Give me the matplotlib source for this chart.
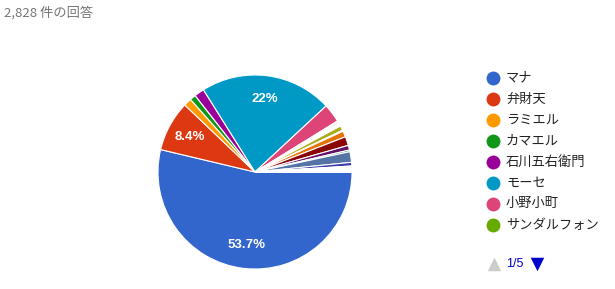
import matplotlib
matplotlib.use("Agg")
import matplotlib.pyplot as plt

plt.rcParams["font.family"] = ["Noto Sans CJK JP", "DejaVu Sans"]

# 回答数（合計 2,828 件、40 項目）
total = 2828
names = ["マナ", "弁財天", "ラミエル", "カマエル", "石川五右衛門", "モーセ", "小野小町", "サンダルフォン"]
counts = [1519, 238, 37, 28, 47, 622, 88, 6,
          6, 5, 5, 5, 22, 5, 28, 42, 22, 8, 50, 17,
          3, 2, 2, 2, 2, 2, 2, 1, 1, 1, 1, 1, 1, 1, 1, 1, 1, 1, 1, 1]
colors = ["#3366cc", "#dc3912", "#ff9900", "#109618", "#990099", "#0099c6", "#dd4477", "#66aa00",
          "#b82e2e", "#316395", "#994499", "#22aa99", "#aaaa11", "#6633cc", "#e67300", "#8b0707",
          "#651067", "#329262", "#5574a6", "#3b3eac", "#b77322", "#16d620", "#b91383", "#f4359e",
          "#9c5935", "#a9c413", "#2a778d", "#668d1c", "#bea413", "#0c5922", "#743411", "#3366cc",
          "#dc3912", "#ff9900", "#109618", "#990099", "#0099c6", "#dd4477", "#66aa00", "#b82e2e"]
page = "1/5"

W, H = 615, 289
fig = plt.figure(figsize=(W / 100, H / 100), dpi=100)

# 円グラフ
cx, cy, r = 255, 172, 98
ax = fig.add_axes([(cx - r) / W, (H - cy - r) / H, 2 * r / W, 2 * r / H])


def pct(p):
    if p < 5:
        return ""
    s = "{:.1f}".format(p)
    if s.endswith(".0"):
        s = s[:-2]
    return s + "%"


wedges, texts, autotexts = ax.pie(counts, colors=colors, startangle=0, counterclock=False,
                                  radius=1, autopct=pct, pctdistance=0.76,
                                  wedgeprops=dict(edgecolor="white", linewidth=0.8))
for t in autotexts:
    t.set_color("white")
    t.set_fontsize(9.5)
    t.set_fontweight("bold")
    t.set_family(["Liberation Sans", "DejaVu Sans"])
ax.set_xlim(-1.01, 1.01)
ax.set_ylim(-1.01, 1.01)
ax.set_aspect("equal")
ax.axis("off")

# 凡例・タイトル（ピクセル座標の重ね合わせ）
ov = fig.add_axes([0, 0, 1, 1], zorder=-1)
ov.set_xlim(0, W)
ov.set_ylim(H, 0)
ov.axis("off")

ov.text(4, 13, "{:,} 件の回答".format(total), fontsize=9.5, color="#757575", va="center", ha="left")

for i, name in enumerate(names):
    y = 78 + i * 21
    ov.scatter([493], [y], s=100, color=colors[i], linewidths=0)
    ov.text(506, y, name, fontsize=9.5, color="#222222", va="center", ha="left")

ov.scatter([494], [264], marker="^", s=95, color="#cccccc", linewidths=0)
ov.text(506, 264, page, fontsize=9, color="#0000cc", va="center", ha="left",
        family=["Liberation Sans", "DejaVu Sans"])
ov.scatter([537], [264], marker="v", s=95, color="#0000cc", linewidths=0)

fig.savefig("out.png", dpi=100)
